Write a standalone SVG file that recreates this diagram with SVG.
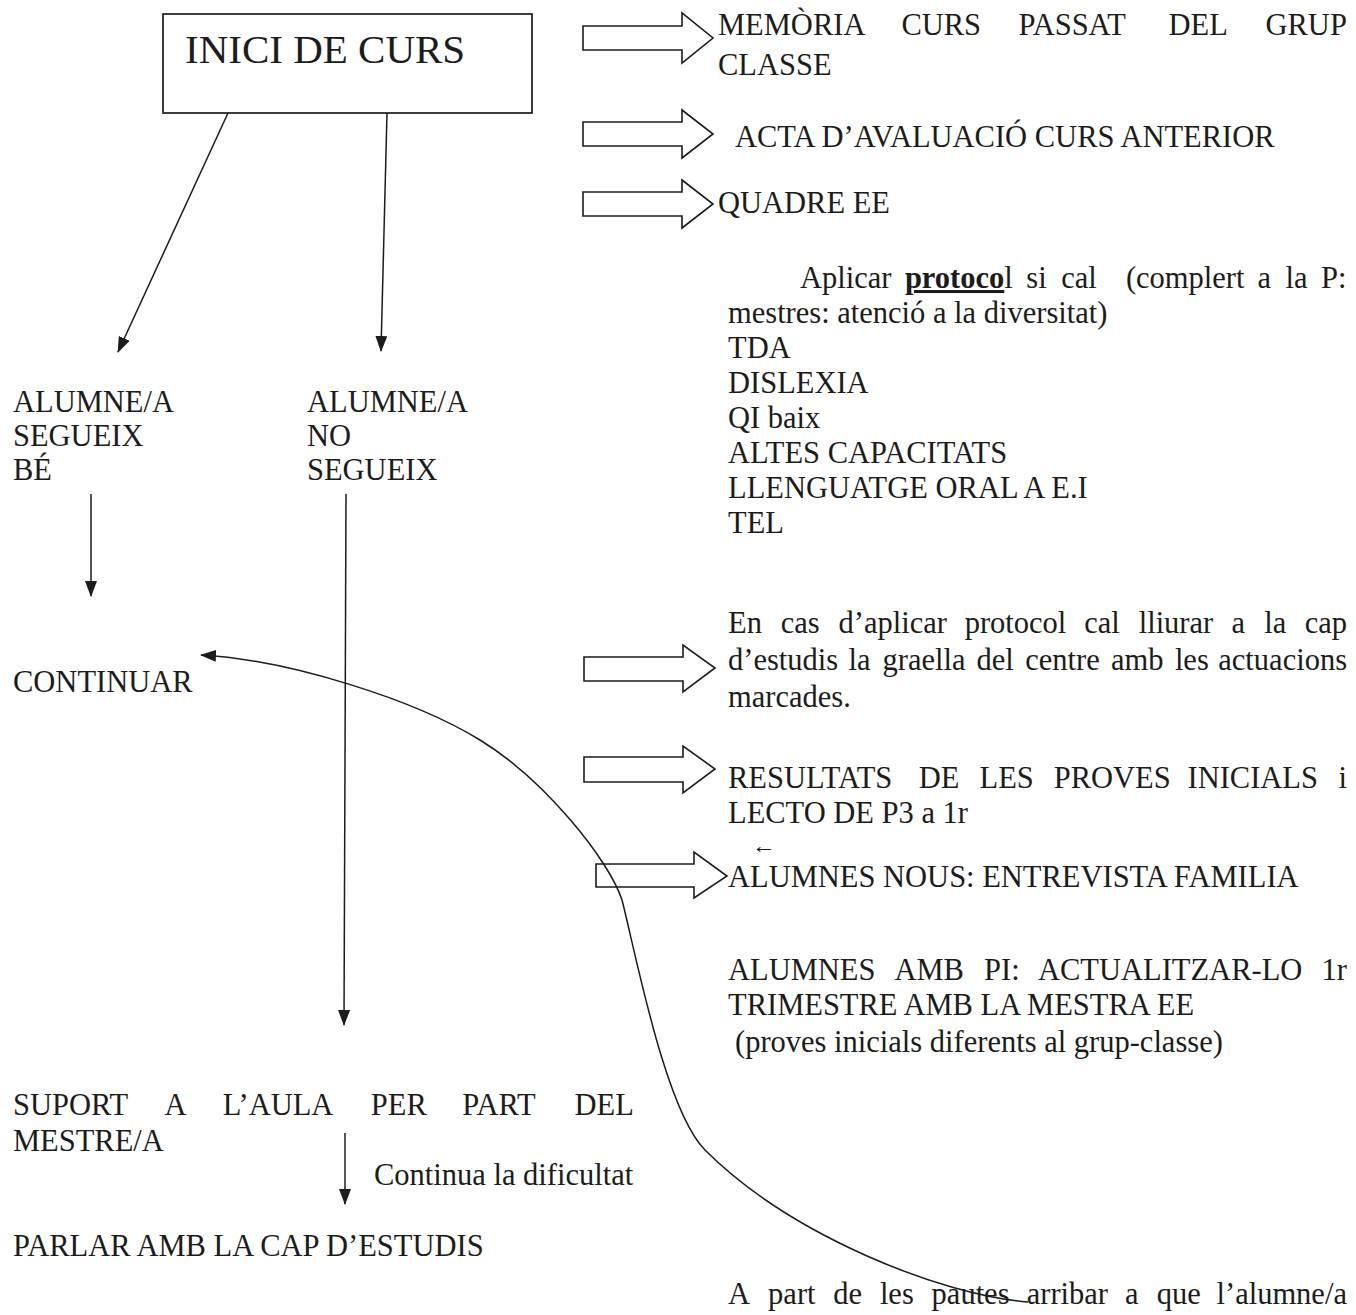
<svg xmlns="http://www.w3.org/2000/svg" width="1356" height="1315" viewBox="0 0 1356 1315">
<defs>
<style>
text{font-family:"Liberation Serif","Times New Roman",serif;font-size:30.5px;fill:#1c1c1c}
.title{font-size:41px}
.ln{fill:none;stroke:#1c1c1c;stroke-width:1.5}
.blk{fill:#fff;stroke:#1c1c1c;stroke-width:1.6;stroke-linejoin:miter}
.box{fill:#fff;stroke:#1c1c1c;stroke-width:1.7}
.b{font-weight:bold;text-decoration:underline}
</style>
<marker id="ah" markerUnits="userSpaceOnUse" markerWidth="16" markerHeight="12" viewBox="0 0 16 12" refX="15" refY="6" orient="auto"><path d="M0,0 L16,6 L0,12 z" fill="#1c1c1c"/></marker>
</defs>
<rect width="1356" height="1315" fill="#fff"/>

<g id="connectors">
<line class="ln" x1="228" y1="113" x2="118" y2="352" marker-end="url(#ah)"/>
<line class="ln" x1="387" y1="113" x2="381" y2="351" marker-end="url(#ah)"/>
<line class="ln" x1="91" y1="494" x2="91" y2="596" marker-end="url(#ah)"/>
<line class="ln" x1="346" y1="494" x2="344" y2="1025" marker-end="url(#ah)"/>
<line class="ln" x1="345" y1="1133" x2="345" y2="1204" marker-end="url(#ah)"/>
<polygon class="blk" points="583,26 682,26 682,13 713,38 682,63 682,50 583,50"/>
<polygon class="blk" points="583,122 682,122 682,110 713,134 682,158 682,146 583,146"/>
<polygon class="blk" points="583,192 682,192 682,180 713,204 682,228 682,216 583,216"/>
<polygon class="blk" points="584,657 683,657 683,645 715,668 683,692 683,681 584,681"/>
<polygon class="blk" points="584,757 683,757 683,746 715,769 683,793 683,782 584,782"/>
<polygon class="blk" points="596,864 694,864 694,852 727,876 694,898 694,887 596,887"/>
<path class="ln" d="M1028,1302 C940,1295 790,1235 705,1150 C665,1110 635,950 622,900 C609,860 545,780 480,740 C415,700 290,660 201,655" marker-end="url(#ah)"/>
</g>

<g id="n-inici">
<rect class="box" x="163" y="14" width="369" height="99"/>
<text class="title" x="185" y="63">INICI DE CURS</text>
</g>

<g id="n-segueix">
<text x="13" y="412">ALUMNE/A</text>
<text x="13" y="446">SEGUEIX</text>
<text x="13" y="480">BÉ</text>
</g>

<g id="n-no-segueix">
<text x="307" y="412">ALUMNE/A</text>
<text x="307" y="446">NO</text>
<text x="307" y="480">SEGUEIX</text>
</g>

<g id="n-continuar">
<text x="13" y="692">CONTINUAR</text>
</g>

<g id="n-suport">
<text y="1115"><tspan x="13">SUPORT</tspan> <tspan x="164.5">A</tspan> <tspan x="222.7">L’AULA</tspan> <tspan x="370.8">PER</tspan> <tspan x="462.3">PART</tspan> <tspan x="574.5">DEL</tspan></text>
<text x="13" y="1151">MESTRE/A</text>
</g>

<g id="l-continua">
<text x="374" y="1185">Continua la dificultat</text>
</g>

<g id="n-parlar">
<text x="13" y="1256">PARLAR AMB LA CAP D’ESTUDIS</text>
</g>

<g id="r-memoria">
<text y="35"><tspan x="718">MEMÒRIA</tspan> <tspan x="901.4">CURS</tspan> <tspan x="1018.5">PASSAT</tspan> <tspan x="1168.6">DEL</tspan> <tspan x="1265.5">GRUP</tspan></text>
<text x="718" y="75">CLASSE</text>
</g>

<g id="r-acta">
<text x="735" y="147">ACTA D’AVALUACIÓ CURS ANTERIOR</text>
</g>

<g id="r-quadre">
<text x="718" y="213">QUADRE EE</text>
</g>

<g id="r-protocol">
<text y="288"><tspan x="800">Aplicar</tspan> <tspan x="904.9"><tspan class="b">protoco</tspan>l</tspan> <tspan x="1026.3">si</tspan> <tspan x="1061.2">cal</tspan> <tspan x="1125.9">(complert</tspan> <tspan x="1257.4">a</tspan> <tspan x="1285.5">la</tspan> <tspan x="1321">P:</tspan></text>
<text x="728" y="323">mestres: atenció a la diversitat)</text>
<text x="728" y="358">TDA</text>
<text x="728" y="393">DISLEXIA</text>
<text x="728" y="428">QI baix</text>
<text x="728" y="463">ALTES CAPACITATS</text>
<text x="728" y="498">LLENGUATGE ORAL A E.I</text>
<text x="728" y="533">TEL</text>
</g>

<g id="r-cas">
<text y="633"><tspan x="728">En</tspan> <tspan x="780.8">cas</tspan> <tspan x="838.6">d’aplicar</tspan> <tspan x="964.7">protocol</tspan> <tspan x="1084.2">cal</tspan> <tspan x="1138.7">lliurar</tspan> <tspan x="1231.5">a</tspan> <tspan x="1264.3">la</tspan> <tspan x="1304.8">cap</tspan></text>
<text y="670"><tspan x="728">d’estudis</tspan> <tspan x="848.6">la</tspan> <tspan x="882.5">graella</tspan> <tspan x="976.4">del</tspan> <tspan x="1025.3">centre</tspan> <tspan x="1110.9">amb</tspan> <tspan x="1174.9">les</tspan> <tspan x="1218.3">actuacions</tspan></text>
<text x="728" y="707">marcades.</text>
</g>

<g id="r-resultats">
<text y="788"><tspan x="728">RESULTATS</tspan> <tspan x="918.8">DE</tspan> <tspan x="979.6">LES</tspan> <tspan x="1053.7">PROVES</tspan> <tspan x="1187.5">INICIALS</tspan> <tspan x="1338.4">i</tspan></text>
<text x="728" y="823">LECTO DE P3 a 1r</text>
</g>

<g id="r-nous">
<text x="752" y="853" style="font-size:21px" textLength="24" lengthAdjust="spacingAndGlyphs">←</text>
<text x="728" y="887">ALUMNES NOUS: ENTREVISTA FAMILIA</text>
</g>

<g id="r-pi">
<text y="980"><tspan x="728">ALUMNES</tspan> <tspan x="894.4">AMB</tspan> <tspan x="984.1">PI:</tspan> <tspan x="1038">ACTUALITZAR-LO</tspan> <tspan x="1321.5">1r</tspan></text>
<text x="728" y="1015">TRIMESTRE AMB LA MESTRA EE</text>
<text x="735" y="1052">(proves inicials diferents al grup-classe)</text>
</g>

<g id="r-pautes">
<text y="1304"><tspan x="728">A</tspan> <tspan x="768.1">part</tspan> <tspan x="833.2">de</tspan> <tspan x="879.9">les</tspan> <tspan x="931.6">pautes</tspan> <tspan x="1026.7">arribar</tspan> <tspan x="1125.1">a</tspan> <tspan x="1156.8">que</tspan> <tspan x="1216.5">l’alumne/a</tspan></text>
</g>
</svg>
